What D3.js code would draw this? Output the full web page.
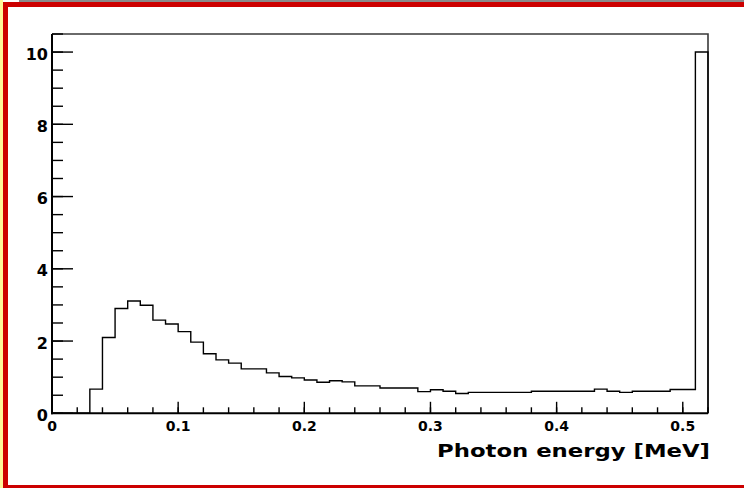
<!DOCTYPE html>
<html>
<head>
<meta charset="utf-8">
<script src="https://cdn.jsdelivr.net/npm/d3@7"></script>
<style>
  html, body { margin: 0; padding: 0; background: #fff; }
  svg { display: block; }
  text { font-family: "DejaVu Sans", "Liberation Sans", Arial, sans-serif; font-weight: bold; fill: #000; }
</style>
</head>
<body>
<svg id="chart" width="744" height="488"></svg>
<script>
// Histogram bins: lower edges (MeV), width 0.01
const binEdges = d3.range(53).map(i => +(i * 0.01).toFixed(2));
const counts = [
  0, 0, 0, 0.67, 2.10, 2.90, 3.11, 2.99, 2.58, 2.47,
  2.26, 1.97, 1.65, 1.48, 1.39, 1.23, 1.23, 1.12, 1.02, 0.98,
  0.92, 0.86, 0.90, 0.87, 0.76, 0.76, 0.70, 0.70, 0.70, 0.60,
  0.65, 0.61, 0.55, 0.58, 0.58, 0.58, 0.58, 0.58, 0.61, 0.61,
  0.61, 0.61, 0.61, 0.67, 0.61, 0.58, 0.61, 0.61, 0.61, 0.66,
  0.66, 10.0
];
const xMajorTicks = [0, 0.1, 0.2, 0.3, 0.4, 0.5];
const xTickLabels = ["0", "0.1", "0.2", "0.3", "0.4", "0.5"];
const yMajorTicks = [0, 2, 4, 6, 8, 10];
const yTickLabels = ["0", "2", "4", "6", "8", "10"];
const xTitle = "Photon energy [MeV]";

const svg = d3.select("#chart");

// page decoration
svg.append("rect").attr("x", 0).attr("y", 0).attr("width", 3).attr("height", 488).attr("fill", "#fff59a");
svg.append("rect").attr("x", 19).attr("y", 0).attr("width", 725).attr("height", 2).attr("fill", "#8a8a8a");
svg.append("rect").attr("x", 3).attr("y", 2).attr("width", 741).attr("height", 5).attr("fill", "#cc0000");
svg.append("rect").attr("x", 3).attr("y", 2).attr("width", 5).attr("height", 486).attr("fill", "#cc0000");
svg.append("rect").attr("x", 3).attr("y", 485).attr("width", 741).attr("height", 3).attr("fill", "#cc0000");

const L = 52, R = 708, T = 34, B = 413.3;
const x = d3.scaleLinear().domain([0, 0.52]).range([L, R]);
const y = d3.scaleLinear().domain([0, 10.5]).range([B, T]);

// frame top/right
svg.append("path")
  .attr("d", `M${L},${T}H${R}V${B}`)
  .attr("fill", "none").attr("stroke", "#3a3a3a").attr("stroke-width", 1.6);

// histogram
let d = `M${x(0)},${y(0)}`;
counts.forEach((c, i) => {
  d += `V${y(c)}H${x(binEdges[i + 1])}`;
});
d += `V${y(0)}`;
svg.append("path").attr("d", d).attr("fill", "none")
  .attr("stroke", "#000").attr("stroke-width", 1.4);

// x axis
const xMinor = d3.range(0, 0.5201, 0.02);
const gx = svg.append("g");
gx.selectAll("line.minor").data(xMinor).join("line")
  .attr("x1", v => x(v)).attr("x2", v => x(v))
  .attr("y1", B).attr("y2", B - 6)
  .attr("stroke", "#000").attr("stroke-width", 1.4);
gx.selectAll("line.major").data(xMajorTicks).join("line")
  .attr("x1", v => x(v)).attr("x2", v => x(v))
  .attr("y1", B).attr("y2", B - 11.5)
  .attr("stroke", "#000").attr("stroke-width", 1.4);
gx.selectAll("text").data(xMajorTicks).join("text")
  .attr("x", v => x(v)).attr("y", 430.5)
  .attr("text-anchor", "middle").attr("font-size", 14)
  .text((v, i) => xTickLabels[i]);
svg.append("line").attr("x1", L - 1).attr("x2", R).attr("y1", B).attr("y2", B)
  .attr("stroke", "#000").attr("stroke-width", 2);

// y axis
const yMinor = d3.range(0, 10.51, 0.5);
const gy = svg.append("g");
gy.selectAll("line.minor").data(yMinor).join("line")
  .attr("x1", L).attr("x2", L + 11)
  .attr("y1", v => y(v)).attr("y2", v => y(v))
  .attr("stroke", "#000").attr("stroke-width", 1.4);
gy.selectAll("line.major").data(yMajorTicks).join("line")
  .attr("x1", L).attr("x2", L + 21)
  .attr("y1", v => y(v)).attr("y2", v => y(v))
  .attr("stroke", "#000").attr("stroke-width", 1.4);
gy.selectAll("text").data(yMajorTicks).join("text")
  .attr("x", 48).attr("y", v => y(v) + 7.5)
  .attr("text-anchor", "end").attr("font-size", 16)
  .text((v, i) => yTickLabels[i]);
svg.append("line").attr("x1", L).attr("x2", L).attr("y1", T).attr("y2", B + 1)
  .attr("stroke", "#000").attr("stroke-width", 2);

// x title
svg.append("text").attr("x", 710).attr("y", 457)
  .attr("text-anchor", "end").attr("font-size", 18)
  .attr("textLength", 273).attr("lengthAdjust", "spacingAndGlyphs")
  .text(xTitle);
</script>
</body>
</html>
